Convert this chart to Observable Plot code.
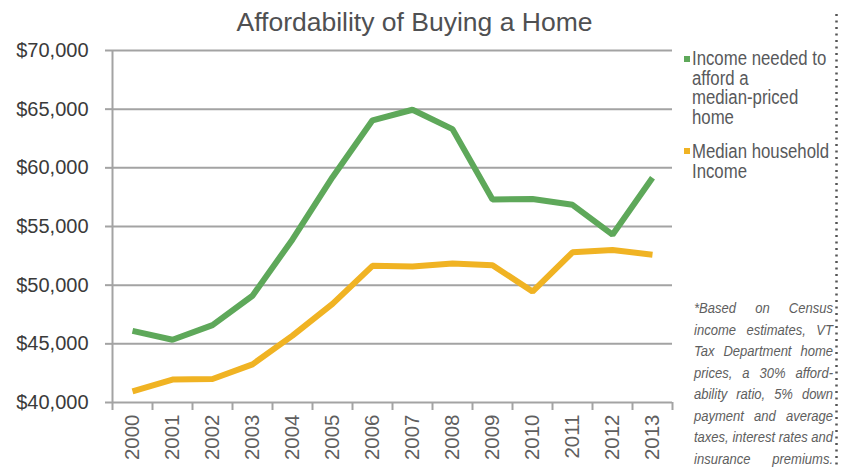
<!DOCTYPE html>
<html>
<head>
<meta charset="utf-8">
<script src="https://cdn.jsdelivr.net/npm/d3@7"></script>
<script src="https://cdn.jsdelivr.net/npm/@observablehq/plot@0.6"></script>
<style>
  html, body { margin: 0; padding: 0; background: #fff; }
  #wrap { position: relative; width: 847px; height: 469px; overflow: hidden; font-family: "Liberation Sans", Arial, sans-serif; }
  #chart { position: absolute; left: 0; top: 0; }
  #title { position: absolute; left: 0; top: 9px; width: 829px; text-align: center; font-size: 26.5px; line-height: 26.5px; color: #4f5052; white-space: nowrap; }
  .legend { position: absolute; left: 692px; font-size: 19.5px; line-height: 19.7px; color: #58595b; transform: scaleX(0.86); transform-origin: 0 0; white-space: nowrap; }
  .swatch { position: absolute; width: 6px; height: 6px; left: 684px; }
  #note { position: absolute; left: 694px; top: 297px; width: 165.5px; font-size: 15.5px; line-height: 21.5px; font-style: italic; color: #5e5e5e; transform: scaleX(0.84); transform-origin: 0 0; }
  #note span { display: block; text-align: justify; text-align-last: justify; white-space: nowrap; }
  #dots { position: absolute; left: 0; top: 0; }
</style>
</head>
<body>
<div id="wrap"></div>
<script>
// ---- data ----
const years = [2000, 2001, 2002, 2003, 2004, 2005, 2006, 2007, 2008, 2009, 2010, 2011, 2012, 2013];
const incomeNeeded = [46100, 45350, 46600, 49100, 53900, 59200, 64050, 64950, 63300, 57300, 57350, 56850, 54300, 59150];
const medianIncome = [40950, 41950, 42000, 43250, 45700, 48400, 51650, 51600, 51850, 51700, 49450, 52800, 53000, 52600];
const yTicks = [40000, 45000, 50000, 55000, 60000, 65000, 70000];
const titleText = "Affordability of Buying a Home";
const seriesNames = ["Income needed to afford a median-priced home", "Median household Income"];
const legendLines = [["Income needed to", "afford a", "median-priced", "home"], ["Median household", "Income"]];
const seriesColors = ["#5ea85a", "#f0b323"];
const noteLines = ["*Based on Census", "income estimates, VT", "Tax Department home", "prices, a 30% afford-", "ability ratio, 5% down", "payment and average", "taxes, interest rates and", "insurance premiums."];

// ---- derived ----
const rows = years.map((year, i) => ({ year, needed: incomeNeeded[i], median: medianIncome[i] }));
const xDomain = [years[0] - 0.5, years[years.length - 1] + 0.5];
const boundaries = years.map(y => y - 0.5).concat([xDomain[1]]);
const gridColor = "#a3a3a3";

const chart = Plot.plot({
  width: 847,
  height: 469,
  marginLeft: 112,
  marginRight: 175,
  marginTop: 50,
  marginBottom: 67,
  style: { background: "transparent", fontFamily: "Liberation Sans, Arial, sans-serif" },
  x: { type: "linear", domain: xDomain },
  y: { domain: [yTicks[0], yTicks[yTicks.length - 1]] },
  marks: [
    Plot.gridY({ ticks: yTicks, stroke: gridColor, strokeOpacity: 1, strokeWidth: 2 }),
    Plot.ruleX([xDomain[0]], { stroke: gridColor, strokeWidth: 2 }),
    Plot.axisY({ ticks: yTicks, tickSize: 7, tickPadding: 17, stroke: gridColor, strokeWidth: 2, fill: "#3a3a3a", fontSize: 20, label: null,
      tickFormat: d => "$" + d3.format(",")(d) }),
    Plot.axisX({ ticks: boundaries, tickSize: 8, stroke: gridColor, strokeWidth: 2, tickFormat: () => "", label: null }),
    Plot.axisX({ ticks: years, tickSize: 0, tickPadding: 12, tickRotate: -90, fill: "#5f5f5f", fontSize: 20.5, label: null,
      tickFormat: d => String(d) }),
    Plot.line(rows, { x: "year", y: "median", stroke: seriesColors[1], strokeWidth: 6, strokeLinejoin: "miter", strokeLinecap: "butt" }),
    Plot.line(rows, { x: "year", y: "needed", stroke: seriesColors[0], strokeWidth: 6, strokeLinejoin: "miter", strokeLinecap: "butt" })
  ]
});
chart.id = "chart";

const wrap = document.getElementById("wrap");
wrap.appendChild(chart);

const title = document.createElement("div");
title.id = "title";
title.textContent = titleText;
wrap.appendChild(title);

const legendTops = [49, 142];
const swatchTops = [56, 148];
legendLines.forEach((lines, k) => {
  const sw = document.createElement("div");
  sw.className = "swatch";
  sw.style.top = swatchTops[k] + "px";
  sw.style.background = seriesColors[k];
  sw.title = seriesNames[k];
  wrap.appendChild(sw);
  const lg = document.createElement("div");
  lg.className = "legend";
  lg.style.top = legendTops[k] + "px";
  lg.innerHTML = lines.join("<br>");
  wrap.appendChild(lg);
});

const note = document.createElement("div");
note.id = "note";
noteLines.forEach(t => {
  const s = document.createElement("span");
  s.textContent = t;
  note.appendChild(s);
});
wrap.appendChild(note);

const ns = "http://www.w3.org/2000/svg";
const dots = document.createElementNS(ns, "svg");
dots.setAttribute("id", "dots");
dots.setAttribute("width", 847);
dots.setAttribute("height", 469);
const ln = document.createElementNS(ns, "line");
ln.setAttribute("x1", 836.5); ln.setAttribute("x2", 836.5);
ln.setAttribute("y1", 14); ln.setAttribute("y2", 469);
ln.setAttribute("stroke", "#555"); ln.setAttribute("stroke-width", 2.5);
ln.setAttribute("stroke-dasharray", "2 4.5");
dots.appendChild(ln);
wrap.appendChild(dots);
</script>
</body>
</html>
